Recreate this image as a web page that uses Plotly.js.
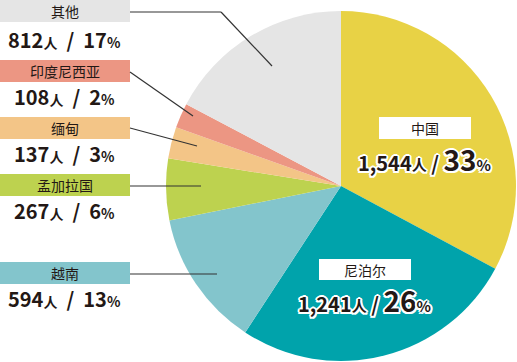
<!DOCTYPE html>
<html>
<head>
<meta charset="utf-8">
<script src="https://cdn.plot.ly/plotly-3.0.1.min.js"></script>
<style>html,body{margin:0;padding:0;background:#fff;}#chart{width:517px;height:362px;}</style>
</head>
<body>
<div id="chart"></div>
<script>
// ---- data ----
const categories = ['中国', '尼泊尔', '越南', '孟加拉国', '缅甸', '印度尼西亚', '其他'];
const counts = [1544, 1241, 594, 267, 137, 108, 812];
const percents = [33, 26, 13, 6, 3, 2, 17];
const colors = ['#E8D245', '#00A3AB', '#83C5CC', '#BDD24F', '#F3C587', '#EC9683', '#E5E5E5'];

// ---- layout helpers (pixel positions) ----
const W = 517, H = 362;
const px = x => x / W;
const py = y => 1 - y / H;
const FONT = '"Noto Sans CJK SC", "Noto Sans", sans-serif';
const INK = '#231815';

// left-side labels: index into categories
const leftIdx = [6, 5, 4, 3, 2];
const leftBoxTop = [0, 60, 117, 174, 262];
const leftValueY = [40, 97, 153, 210, 298];
const leftLines = [
  [[130, 12], [221, 12], [272, 66]],
  [[130, 72], [193, 116]],
  [[130, 128], [197, 146]],
  [[130, 186], [201, 186]],
  [[130, 274], [217, 274]]
];
// inside labels
const inIdx = [0, 1];
const inBox = [[379, 117, 471, 139], [319, 259, 411, 280]];
const inValue = [[424, 159], [364, 300]];

const fmt = n => n.toLocaleString('en-US');
const NB = '\u00A0';

const shapes = [];
const annotations = [];

leftIdx.forEach((ci, k) => {
  const top = leftBoxTop[k];
  shapes.push({type: 'rect', xref: 'paper', yref: 'paper',
    x0: px(0), x1: px(130), y0: py(top), y1: py(top + 22),
    fillcolor: colors[ci], line: {width: 0}, layer: 'above'});
  annotations.push({xref: 'paper', yref: 'paper', x: px(65), y: py(top + 11),
    xanchor: 'center', yanchor: 'middle', showarrow: false,
    text: categories[ci], font: {family: FONT, size: 14, color: INK, weight: 400}});
  annotations.push({xref: 'paper', yref: 'paper', x: px(64), y: py(leftValueY[k]),
    xanchor: 'center', yanchor: 'middle', showarrow: false,
    text: fmt(counts[ci]) + '<span style="font-size:14px">人</span>' + NB + NB + '/' + NB + NB + percents[ci] + '<span style="font-size:14px">%</span>',
    font: {family: FONT, size: 20, color: INK, weight: 600}});
  const pts = leftLines[k];
  for (let i = 0; i < pts.length - 1; i++) {
    shapes.push({type: 'line', xref: 'paper', yref: 'paper',
      x0: px(pts[i][0]), y0: py(pts[i][1]), x1: px(pts[i + 1][0]), y1: py(pts[i + 1][1]),
      line: {color: '#333333', width: 1.2}, layer: 'above'});
  }
});

const halo = '-1.5px -1.5px 0 #fff, 1.5px -1.5px 0 #fff, -1.5px 1.5px 0 #fff, 1.5px 1.5px 0 #fff, 0 2px 0 #fff, 2px 0 0 #fff, -2px 0 0 #fff, 0 -2px 0 #fff';
inIdx.forEach((ci, k) => {
  const b = inBox[k];
  shapes.push({type: 'rect', xref: 'paper', yref: 'paper',
    x0: px(b[0]), x1: px(b[2]), y0: py(b[1]), y1: py(b[3]),
    fillcolor: '#ffffff', line: {width: 0}, layer: 'above'});
  annotations.push({xref: 'paper', yref: 'paper', x: px((b[0] + b[2]) / 2), y: py((b[1] + b[3]) / 2),
    xanchor: 'center', yanchor: 'middle', showarrow: false,
    text: categories[ci], font: {family: FONT, size: 14, color: INK, weight: 400}});
  annotations.push({xref: 'paper', yref: 'paper', x: px(inValue[k][0]), y: py(inValue[k][1]),
    xanchor: 'center', yanchor: 'middle', showarrow: false,
    text: fmt(counts[ci]) + '<span style="font-size:15px">人</span>' + NB + '/' + NB + '<span style="font-size:28px">' + percents[ci] + '</span><span style="font-size:15px">%</span>',
    font: {family: FONT, size: 20, color: INK, weight: 700, shadow: halo}});
});

const trace = {
  type: 'pie',
  labels: categories,
  values: counts,
  sort: false,
  direction: 'clockwise',
  rotation: 0,
  marker: {colors: colors, line: {width: 0}},
  textinfo: 'none',
  hoverinfo: 'none',
  showlegend: false,
  domain: {x: [166 / W, 516 / W], y: [1 - 361 / H, 1 - 11 / H]}
};

const layout = {
  width: W, height: H,
  margin: {l: 0, r: 0, t: 0, b: 0, pad: 0},
  paper_bgcolor: '#ffffff',
  plot_bgcolor: '#ffffff',
  showlegend: false,
  shapes: shapes,
  annotations: annotations
};

Plotly.newPlot('chart', [trace], layout, {displayModeBar: false, staticPlot: true});
</script>
</body>
</html>
